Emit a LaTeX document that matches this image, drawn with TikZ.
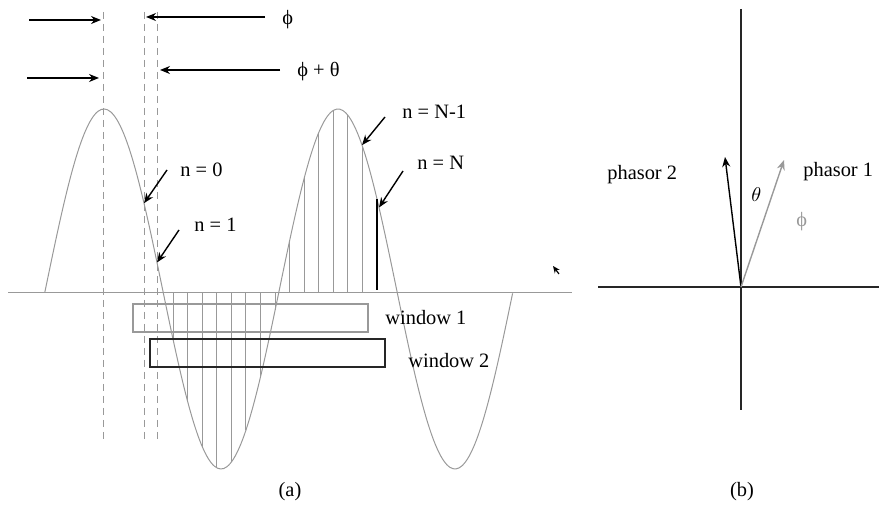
\documentclass[tikz,border=0pt]{standalone}
\usepackage{fontspec}
\setmainfont{Liberation Serif}
\usetikzlibrary{arrows.meta}

\begin{document}
\begin{tikzpicture}[x=0.5pt,y=-0.5pt,
		declare function={wave(\x)=289-180*cos((\x-104)*1.53846);},
		flecha/.style={-{Stealth[length=5pt,width=4pt]},line width=0.7pt},
		guia/.style={black!40,dash pattern=on 3.5pt off 2.5pt,line width=0.5pt},
		muestra/.style={black!40,line width=0.5pt},
		etiq/.style={font=\fontsize{10.2}{12}\selectfont,inner sep=0pt,anchor=base west}]
			\useasboundingbox (0,0) rectangle (879,506);
			
			% Eje de tiempo
			\draw[black!40, line width=0.5pt] (8,293) -- (572,293);
			
			% Onda
			\draw[black!40, line width=0.5pt, domain=44.7:512.6, samples=150, smooth] plot (\x,{wave(\x)});
			
			% Lineas guia
			\foreach \xg in {103.5,144,157} {
				\draw[guia] (\xg,12) -- (\xg,440);
			}
			
			% Muestras
			\foreach \k in {2,...,15} {
				\pgfmathsetmacro\xs{144+14.56*\k}
				\draw[muestra] (\xs,293) -- (\xs,{wave(\xs)});
			}
			\draw[line width=0.7pt] (377,290) -- (377,{wave(377)});
			
			% Puntos senalados
			\coordinate (s0) at (144,{wave(144)});
			\coordinate (s1) at (157,{wave(157)});
			\coordinate (sN1) at (362,{wave(362)});
			\coordinate (sN) at (379,{wave(379)});
			
			% Desfases
			\coordinate (a1) at (29,20);
			\coordinate (b1) at (101,20);
			\coordinate (c1) at (265,17);
			\coordinate (d1) at (146,17);
			\coordinate (a2) at (27,78);
			\coordinate (b2) at (99,78);
			\coordinate (c2) at (280,70);
			\coordinate (d2) at (160,70);
			\draw[flecha] (a1) -- (b1);
			\draw[flecha] (c1) -- (d1);
			\draw[flecha] (a2) -- (b2);
			\draw[flecha] (c2) -- (d2);
			\node[etiq] (phi) at (282,25) {ϕ};
			\node[etiq] (phith) at (297,77) {ϕ + θ};
			
			% Etiquetas de muestras
			\node[etiq] (n0) at (180,177) {n = 0};
			\node[etiq] (n1) at (194,232) {n = 1};
			\node[etiq] (nN1) at (402,119) {n = N-1};
			\node[etiq] (nN) at (417,170) {n = N};
			\coordinate (t0) at (167,170);
			\coordinate (t1) at (179,230);
			\coordinate (tN1) at (385,117);
			\coordinate (tN) at (403,171);
			\draw[flecha] (t0) -- (s0);
			\draw[flecha] (t1) -- (s1);
			\draw[flecha] (tN1) -- (sN1);
			\draw[flecha] (tN) -- (sN);
			
			% Ventanas
			\draw[black!40, line width=0.7pt] (133,304) rectangle (368,332);
			\draw[black!85, line width=0.7pt] (150,339) rectangle (385,367);
			\node[etiq] (w1) at (385,325) {window 1};
			\node[etiq] (w2) at (408,368) {window 2};
			
			% Cursor
			\coordinate (k1) at (559,274);
			\coordinate (k2) at (553,266);
			\draw[-{Stealth[length=3.5pt,width=3pt]}, line width=0.6pt] (k1) -- (k2);
			
			% Diagrama fasorial
			\draw[black!85, line width=0.6pt] (741,9) -- (741,410);
			\draw[black!85, line width=0.6pt] (598,287) -- (879,287);
			\coordinate (o) at (741,287);
			\coordinate (p2) at (725,157);
			\coordinate (p1) at (784,160);
			\draw[flecha] (o) -- (p2);
			\draw[flecha, black!40] (o) -- (p1);
			\node[etiq] (f2) at (607,180) {phasor 2};
			\node[etiq] (f1) at (803,177) {phasor 1};
			\node[etiq] (th) at (751,202) {$\theta$};
			\node[etiq, text=black!40] (ph) at (796,227) {ϕ};
			
			% Rotulos
			\node[etiq, anchor=base] (ra) at (290,497) {(a)};
			\node[etiq, anchor=base] (rb) at (742,497) {(b)};
		\end{tikzpicture}
\end{document}
